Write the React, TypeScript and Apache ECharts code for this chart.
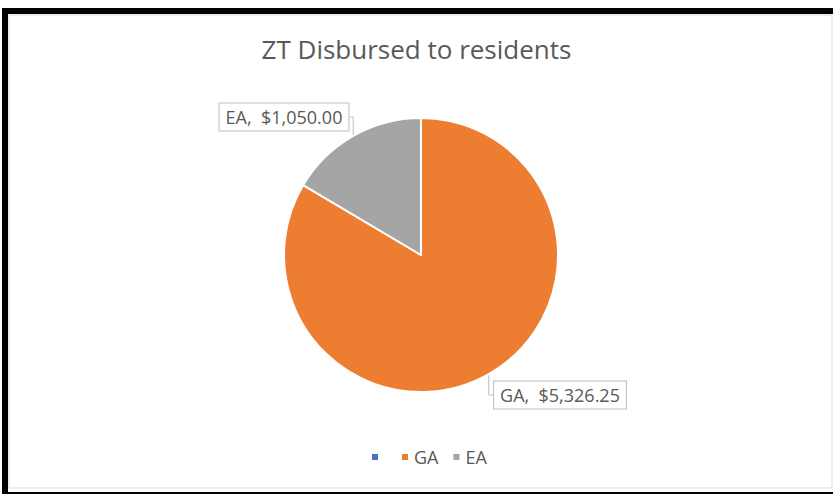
import React, { useEffect, useRef } from "react";
import * as echarts from "echarts";

const categories = ["\u2009", "GA", "EA"];
const values = [0, 5326.25, 1050];
const colors = ["#4472C4", "#ED7D31", "#A5A5A5"];
const titleText = "ZT Disbursed to residents";

const labelPos: Record<number, [number, number]> = {
  1: [560, 395],
  2: [284, 117],
};

function fmt(v: number) {
  return "$" + v.toLocaleString("en-US", { minimumFractionDigits: 2, maximumFractionDigits: 2 });
}

export default function App() {
  const ref = useRef<HTMLDivElement>(null);
  useEffect(() => {
    document.body.style.margin = "0";
    const chart = echarts.init(ref.current!, undefined, { renderer: "svg" });
    const font = "'Open Sans', 'Noto Sans', sans-serif";
    chart.setOption({
      animation: false,
      backgroundColor: "#ffffff",
      title: {
        text: titleText,
        left: "center",
        top: 31,
        textStyle: { fontFamily: font, fontSize: 26, fontWeight: "normal", color: "#595959" },
      },
      legend: {
        left: 365,
        top: 443,
        icon: "rect",
        itemWidth: 8,
        itemHeight: 8,
        itemGap: 13,
        data: categories,
        textStyle: { fontFamily: font, fontSize: 18, color: "#595959" },
        selectedMode: false,
      },
      graphic: [
        { type: "rect", shape: { x: 9, y: 15, width: 823, height: 473 }, style: { fill: "none", stroke: "#d9d9d9", lineWidth: 1 } },
        { type: "rect", shape: { x: 2, y: 8, width: 831, height: 6 }, style: { fill: "#000" } },
        { type: "rect", shape: { x: 2, y: 8, width: 6, height: 486 }, style: { fill: "#000" } },
        { type: "rect", shape: { x: 2, y: 492, width: 831, height: 2 }, style: { fill: "#000" } },
      ],
      series: [
        {
          type: "pie",
          center: [421, 255],
          radius: 137,
          startAngle: 90,
          clockwise: true,
          avoidLabelOverlap: false,
          itemStyle: { borderColor: "#ffffff", borderWidth: 2 },
          label: {
            show: true,
            position: "outside",
            fontFamily: font,
            fontSize: 18,
            color: "#595959",
            backgroundColor: "#ffffff",
            borderColor: "#bfbfbf",
            borderWidth: 1,
            padding: [5, 6, 4, 6],
            formatter: (p: any) => `${p.name},  ${fmt(p.value)}`,
          },
          labelLine: { show: true, length: 10, length2: 10, lineStyle: { color: "#bfbfbf", width: 1 } },
          labelLayout: (p: any) => {
            const pos = labelPos[p.dataIndex];
            if (!pos) return {};
            return { x: pos[0], y: pos[1], align: "center", verticalAlign: "middle" };
          },
          emphasis: { disabled: true },
          data: categories.map((c, i) => ({
            name: c,
            value: values[i],
            itemStyle: { color: colors[i] },
            ...(values[i] === 0 ? { label: { show: false }, labelLine: { show: false } } : {}),
          })),
        },
      ],
    });
    return () => chart.dispose();
  }, []);
  return <div ref={ref} style={{ width: 833, height: 494 }} />;
}
